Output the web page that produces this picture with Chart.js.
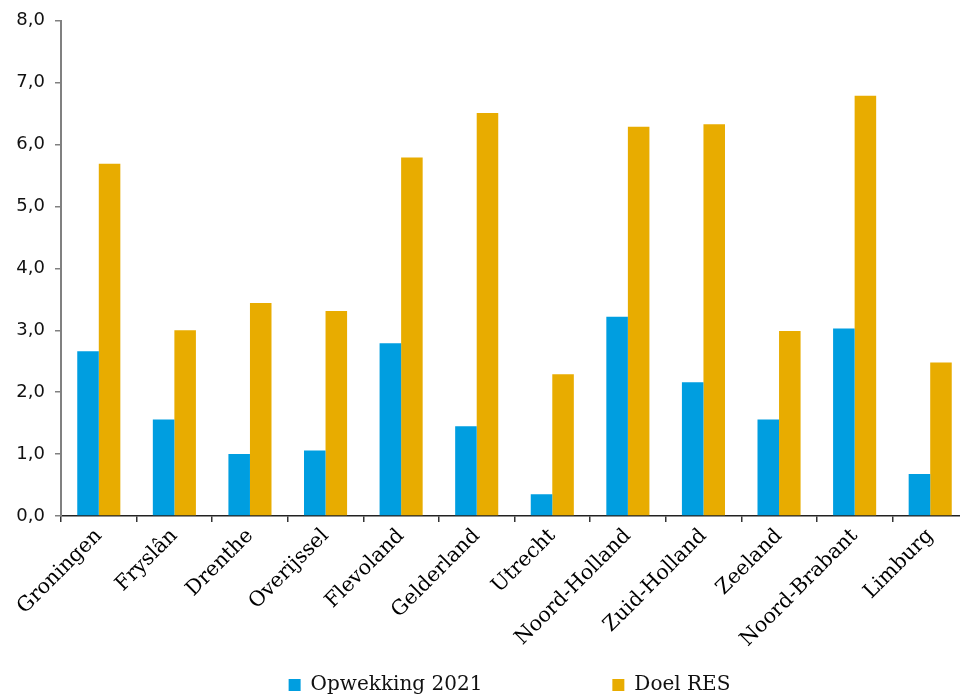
<!DOCTYPE html>
<html>
<head>
<meta charset="utf-8">
<script src="https://cdn.jsdelivr.net/npm/chart.js@4"></script>
<style>
  html, body { margin: 0; padding: 0; background: #fff; }
  #wrap { width: 960px; height: 700px; overflow: hidden; position: relative; }
  canvas { display: block; }
</style>
</head>
<body>
<div id="wrap"><canvas id="c" width="970" height="705"></canvas></div>
<script>
const categories = ['Groningen', 'Fryslân', 'Drenthe', 'Overijssel', 'Flevoland', 'Gelderland', 'Utrecht', 'Noord-Holland', 'Zuid-Holland', 'Zeeland', 'Noord-Brabant', 'Limburg'];
const opwekking2021 = [2.66, 1.56, 1.00, 1.06, 2.79, 1.45, 0.35, 3.22, 2.16, 1.56, 3.03, 0.68];
const doelRES = [5.69, 3.00, 3.44, 3.31, 5.79, 6.51, 2.29, 6.29, 6.33, 2.99, 6.79, 2.48];
const seriesNames = ['Opwekking 2021', 'Doel RES'];
const yMin = 0, yMax = 8, yStep = 1;

const BLUE = '#009ee0';
const GOLD = '#e8ac00';

Chart.defaults.animation = false;

new Chart(document.getElementById('c'), {
  type: 'bar',
  data: {
    labels: categories,
    datasets: [
      { label: seriesNames[0], data: opwekking2021, backgroundColor: BLUE, borderWidth: 0 },
      { label: seriesNames[1], data: doelRES, backgroundColor: GOLD, borderWidth: 0 }
    ]
  },
  options: {
    responsive: false,
    animation: false,
    layout: { padding: { top: 19, left: 0, right: 2, bottom: 0 } },
    datasets: { bar: { categoryPercentage: 0.57, barPercentage: 1.0 } },
    plugins: {
      tooltip: { enabled: false },
      legend: {
        position: 'bottom',
        fullSize: false,
        labels: {
          boxWidth: 12,
          boxHeight: 12,
          padding: 10,
          color: '#111',
          font: { family: 'DejaVu Serif', size: 20 },
          generateLabels: (chart) => {
            const items = Chart.defaults.plugins.legend.labels.generateLabels(chart);
            items.forEach(it => { it.lineWidth = 0; });
            if (items[0]) items[0].text = items[0].text + '\u2003\u2003\u2003\u2003\u2003\u2003';
            if (items[1]) items[1].text = items[1].text + '\u2002';
            return items;
          }
        }
      }
    },
    scales: {
      x: {
        grid: { display: true, offset: true, drawOnChartArea: false, drawTicks: true, tickLength: 6, color: '#333', lineWidth: 1.5 },
        border: { display: true, color: '#222', width: 1.5 },
        ticks: {
          minRotation: 45, maxRotation: 45, autoSkip: false, padding: 2,
          color: '#000',
          font: { family: 'DejaVu Serif', size: 20.5 }
        },
        afterFit: (s) => { s.height = 149; }
      },
      y: {
        min: yMin, max: yMax,
        grid: { display: true, drawOnChartArea: false, drawTicks: true, tickLength: 6, color: '#808080', lineWidth: 1.5 },
        border: { display: true, color: '#808080', width: 2 },
        ticks: {
          stepSize: yStep, padding: 10, color: '#111',
          font: { family: 'DejaVu Sans', size: 18 },
          callback: (v) => v.toFixed(1).replace('.', ',')
        },
        afterFit: (s) => { s.width = 61; }
      }
    }
  }
});
</script>
</body>
</html>
